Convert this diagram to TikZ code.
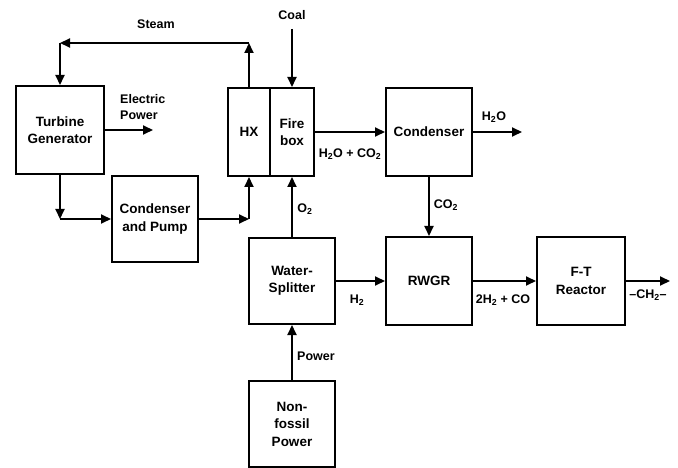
\documentclass[tikz,border=0pt]{standalone}
\usepackage{fontspec}
\setmainfont{Liberation Sans}
\usetikzlibrary{arrows.meta}
\begin{document}
\begin{tikzpicture}[x=1pt,y=-1pt,
  box/.style={draw,line width=2pt,minimum width=86pt,minimum height=86pt,inner sep=1pt,
    align=center,font=\bfseries\fontsize{13.5}{17.5}\selectfont},
  lbl/.style={inner sep=0pt,font=\bfseries\fontsize{12.5}{16}\selectfont},
  arr/.style={line width=2pt,-{Triangle[length=10pt,width=9pt]}}]
\useasboundingbox (0,0) rectangle (678,468);
% boxes
\node[box,minimum width=88pt,minimum height=88pt] (tg) at (60,130) {Turbine\\Generator};
\node[box,minimum width=42pt,minimum height=88pt] (hx) at (249,132) {HX};
\node[box,minimum width=44pt,minimum height=88pt] (fb) at (292,132) {Fire\\box};
\node[box] (cp) at (155,219) {Condenser\\and Pump};
\node[box,minimum height=88pt] (cond) at (429,132) {Condenser};
\node[box] (ws) at (292,281) {Water-\\Splitter};
\node[box,minimum height=88pt] (rwgr) at (429,281) {RWGR};
\node[box,minimum width=88pt,minimum height=88pt] (ft) at (581,281) {F-T\\Reactor};
\node[box] (nf) at (292,424) {Non-\\fossil\\Power};
% free ends
\coordinate (s1) at (249,43);
\coordinate (s2) at (60,43);
\coordinate (coal) at (292,29);
\coordinate (ep) at (153,130);
\coordinate (c1) at (60,219);
\coordinate (c2) at (249,219);
\coordinate (h2oout) at (522,132);
\coordinate (ch2out) at (670,281);
% connectors
\draw[arr] (hx.north) -- (s1);
\draw[arr] (s1) -- (s2);
\draw[arr] (s2) -- (tg.north);
\draw[arr] (coal) -- (fb.north);
\draw[arr] (tg.east) -- (ep);
\draw[arr] (tg.south) -- (c1);
\draw[arr] (c1) -- (cp.west);
\draw[arr] (cp.east) -- (c2);
\draw[arr] (c2) -- (hx.south);
\draw[arr] (ws.north) -- (fb.south);
\draw[arr] (fb.east) -- (cond.west);
\draw[arr] (cond.east) -- (h2oout);
\draw[arr] (cond.south) -- (rwgr.north);
\draw[arr] (ws.east) -- (rwgr.west);
\draw[arr] (rwgr.east) -- (ft.west);
\draw[arr] (ft.east) -- (ch2out);
\draw[arr] (nf.north) -- (ws.south);
% labels
\node[lbl] (lsteam) at (156,24) {Steam};
\node[lbl] (lcoal) at (292,15) {Coal};
\node[lbl,anchor=west,align=left] (lep) at (120,107.5) {Electric\\Power};
\node[lbl] (lo2) at (305,209) {O\textsubscript{2}};
\node[lbl] (lfg) at (350,154) {H\textsubscript{2}O + CO\textsubscript{2}};
\node[lbl] (lh2o) at (494,117) {H\textsubscript{2}O};
\node[lbl] (lco2) at (446,205) {CO\textsubscript{2}};
\node[lbl] (lh2) at (357,300) {H\textsubscript{2}};
\node[lbl] (lsyn) at (503,300) {2H\textsubscript{2} + CO};
\node[lbl] (lch2) at (648,295) {–CH\textsubscript{2}–};
\node[lbl] (lpow) at (316,356) {Power};
\end{tikzpicture}
\end{document}
